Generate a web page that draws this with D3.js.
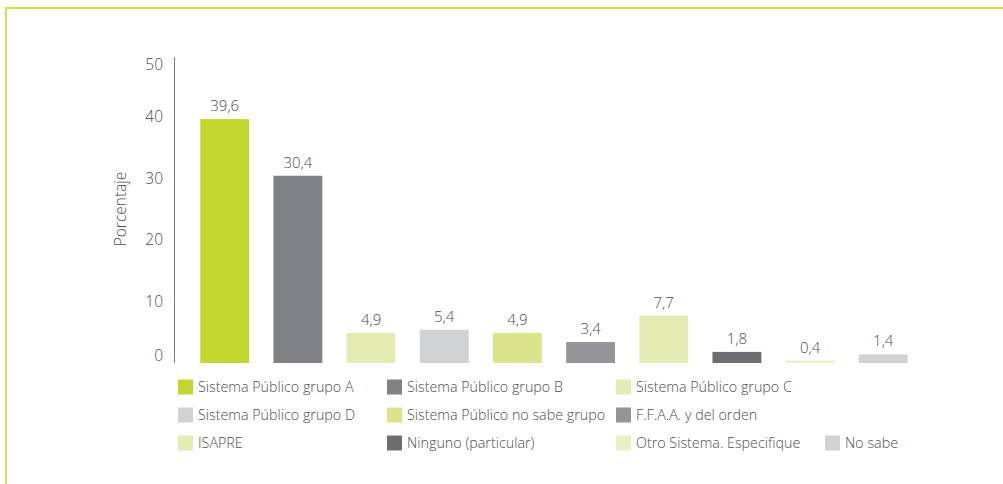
<!DOCTYPE html>
<html>
<head>
<meta charset="utf-8">
<script src="https://cdn.jsdelivr.net/npm/d3@7"></script>
<style>
  html, body { margin: 0; padding: 0; background: #fff; }
  svg text { font-family: "Open Sans", "Noto Sans", sans-serif; font-weight: 300; fill: #4d4d4f; }
</style>
</head>
<body>
<div id="chart"></div>
<script>
const categories = [
    "Sistema Público grupo A", "Sistema Público grupo B", "Sistema Público grupo C",
    "Sistema Público grupo D", "Sistema Público no sabe grupo", "F.F.A.A. y del orden",
    "ISAPRE", "Ninguno (particular)", "Otro Sistema. Especifique", "No sabe"
];
const values = [39.6, 30.4, 4.9, 5.4, 4.9, 3.4, 7.7, 1.8, 0.4, 1.4];
const colors = ["#c2d62f", "#808184", "#e4ecb2", "#d1d2d4", "#dbe48b",
                "#939598", "#e4ecb2", "#6d6e71", "#e9f0c6", "#d1d2d4"];
const yTicks = [0, 10, 20, 30, 40, 50];
const yLabel = "Porcentaje";

const W = 1003, H = 484;

const svg = d3.select("#chart")
    .append("svg")
    .attr("width", W)
    .attr("height", H);

// marco
svg.append("rect")
    .attr("x", 6).attr("y", 8)
    .attr("width", W + 20).attr("height", H + 20)
    .attr("fill", "none")
    .attr("stroke", "#d4e14f")
    .attr("stroke-width", 2);

const x = d3.scaleBand()
    .domain(categories)
    .range([176, 932])
    .padding(0.332);

const y = d3.scaleLinear()
    .domain([0, 50])
    .range([363, 55]);

const fmt = d3.formatLocale({decimal: ",", thousands: ".", grouping: [3], currency: ["", ""]}).format(".1f");

// eje Y
svg.append("line")
    .attr("x1", 174.5).attr("x2", 174.5)
    .attr("y1", y(50) + 2).attr("y2", y(0))
    .attr("stroke", "#808184")
    .attr("stroke-width", 1);

svg.selectAll(".ytick")
    .data(yTicks).enter()
    .append("text")
    .attr("class", "ytick")
    .attr("x", 163)
    .attr("y", d => y(d))
    .attr("dy", d => d === 0 ? "-0.15em" : (d === 50 ? "0.95em" : "0.35em"))
    .attr("text-anchor", "end")
    .style("font-size", "15.5px")
    .text(d => d);

svg.append("text")
    .attr("transform", `translate(126,${y(25)}) rotate(-90)`)
    .attr("text-anchor", "middle")
    .style("font-size", "15.5px")
    .text(yLabel);

// barras
svg.selectAll(".bar")
    .data(values).enter()
    .append("rect")
    .attr("class", "bar")
    .attr("x", (d, i) => x(categories[i]))
    .attr("y", d => y(d))
    .attr("width", x.bandwidth())
    .attr("height", d => y(0) - y(d))
    .attr("fill", (d, i) => colors[i]);

svg.selectAll(".val")
    .data(values).enter()
    .append("text")
    .attr("class", "val")
    .attr("x", (d, i) => x(categories[i]) + x.bandwidth() / 2)
    .attr("y", d => y(d) - 8)
    .attr("text-anchor", "middle")
    .style("font-size", "15px")
    .text(d => fmt(d));

// leyenda
const legendCols = [178, 387, 616, 825];
const legendRows = [387, 415, 443];
const legendPos = [[0, 0], [1, 0], [2, 0], [0, 1], [1, 1], [2, 1], [0, 2], [1, 2], [2, 2], [3, 2]];

const legend = svg.selectAll(".legend")
    .data(categories).enter()
    .append("g")
    .attr("class", "legend")
    .attr("transform", (d, i) => `translate(${legendCols[legendPos[i][0]]},${legendRows[legendPos[i][1]]})`);

legend.append("rect")
    .attr("x", 0).attr("y", -7.5)
    .attr("width", 15).attr("height", 15)
    .attr("fill", (d, i) => colors[i]);

legend.append("text")
    .attr("x", 20)
    .attr("y", 0)
    .attr("dy", "0.35em")
    .style("font-size", "14.3px")
    .text(d => d);
</script>
</body>
</html>
